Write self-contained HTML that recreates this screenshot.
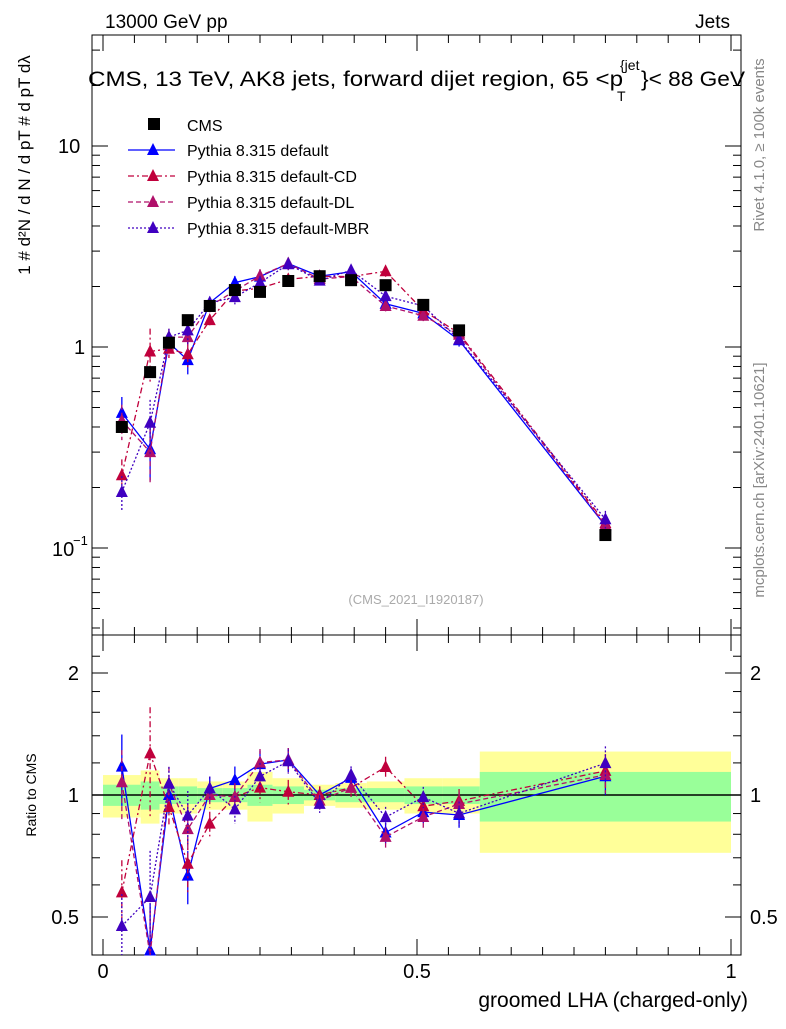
<!DOCTYPE html>
<html><head><meta charset="utf-8"><style>
body{margin:0;background:#fff}
svg{font-family:"Liberation Sans",sans-serif}
</style></head><body>
<svg id="c" width="786" height="1024" xmlns="http://www.w3.org/2000/svg"></svg>
<script>
const xs=[0.03,0.075,0.105,0.135,0.17,0.21,0.25,0.295,0.345,0.395,0.45,0.51,0.567,0.8];
const edges=[0,0.06,0.09,0.12,0.15,0.19,0.23,0.27,0.32,0.37,0.42,0.48,0.54,0.6,1.0];
const cms=[0.40,0.75,1.05,1.36,1.6,1.92,1.88,2.13,2.25,2.15,2.03,1.62,1.21,0.116];
const pDefault=[0.47,0.31,1.05,0.86,1.66,2.09,2.24,2.6,2.25,2.37,1.64,1.47,1.08,0.129];
const pCD=[0.23,0.95,0.98,0.92,1.36,1.9,1.96,2.17,2.25,2.24,2.38,1.52,1.17,0.133];
const pDL=[0.43,0.30,1.12,1.12,1.6,1.9,2.26,2.6,2.18,2.24,1.6,1.43,1.15,0.130];
const pMBR=[0.19,0.42,1.12,1.21,1.66,1.77,2.09,2.58,2.14,2.41,1.79,1.6,1.09,0.139];
const bandYellow=[0.12,0.15,0.10,0.10,0.08,0.08,0.14,0.10,0.06,0.07,0.08,0.10,0.10,0.28];
const bandGreen=[0.06,0.08,0.05,0.05,0.04,0.04,0.06,0.05,0.03,0.04,0.04,0.05,0.05,0.14];
const mcErr=[0.2,0.3,0.1,0.15,0.07,0.08,0.08,0.07,0.05,0.05,0.06,0.06,0.07,0.1];

const svg=document.getElementById('c');const NS='http://www.w3.org/2000/svg';
function el(t,a,p){const e=document.createElementNS(NS,t);for(const k in a)e.setAttribute(k,a[k]);(p||svg).appendChild(e);return e;}
const X=v=>103+628*v;
const Y=v=>347-201*Math.log10(v);
const R=v=>795-122*Math.log2(v);
const L=92,Rt=741,T=35,M=635,B=955;
function clampR(y){return Math.max(M,Math.min(B,y));}

for(let i=0;i<bandYellow.length;i++){
  const r=el('rect',{x:X(edges[i]),y:R(1+bandYellow[i]),width:X(edges[i+1])-X(edges[i]),height:R(1-bandYellow[i])-R(1+bandYellow[i]),fill:'#ffff99'});
  
  const g=el('rect',{x:X(edges[i]),y:R(1+bandGreen[i]),width:X(edges[i+1])-X(edges[i]),height:R(1-bandGreen[i])-R(1+bandGreen[i]),fill:'#99ff99'});
  
}
el('line',{x1:L,x2:Rt,y1:R(1),y2:R(1),stroke:'#000','stroke-width':1.5});

const f1=el('rect',{x:L,y:T,width:Rt-L,height:M-T,fill:'none',stroke:'#000'});
const f2=el('rect',{x:L,y:M,width:Rt-L,height:B-M,fill:'none',stroke:'#000'});

for(let d=-2;d<=1;d++)for(let m=1;m<10;m++){const v=m*Math.pow(10,d);const y=Y(v);if(y<T||y>M)continue;const len=m==1?16:8;
 el('line',{x1:L,x2:L+len,y1:y,y2:y,stroke:'#000'});el('line',{x1:Rt,x2:Rt-len,y1:y,y2:y,stroke:'#000'});}
[0.5,0.6,0.7,0.8,0.9,1,1.2,1.4,1.6,1.8,2,2.2].forEach(v=>{const y=R(v);if(y<M||y>B)return;const len=(v==0.5||v==1||v==2)?16:8;
 el('line',{x1:L,x2:L+len,y1:y,y2:y,stroke:'#000'});el('line',{x1:Rt,x2:Rt-len,y1:y,y2:y,stroke:'#000'});});
for(let i=0;i<=20;i++){const v=i*0.05;const x=X(v);const len=i%10==0?16:8;
 el('line',{x1:x,x2:x,y1:B,y2:B-len,stroke:'#000'});el('line',{x1:x,x2:x,y1:M,y2:M-len,stroke:'#000'});el('line',{x1:x,x2:x,y1:M,y2:M+len,stroke:'#000'});el('line',{x1:x,x2:x,y1:T,y2:T+len,stroke:'#000'});}

function txt(s,a,name){const t=el('text',a);t.textContent=s;return t;}
txt('10',{x:58,y:153,'font-size':20},'y-tick-10');
txt('1',{x:74,y:354,'font-size':20},'y-tick-1');
txt('10',{x:52,y:556,'font-size':20},'y-tick-0.1');
txt('−1',{x:73,y:545,'font-size':13},'y-tick-exp');
['2','1','0.5'].forEach((s,i)=>{const v=[2,1,0.5][i];
 txt(s,{x:79,y:R(v)+7,'font-size':20,'text-anchor':'end'},'ratio-tick-left-'+s);
 txt(s,{x:750,y:R(v)+7,'font-size':20},'ratio-tick-right-'+s);});
[['0',0],['0.5',0.5],['1',1]].forEach(([s,v])=>txt(s,{x:X(v),y:978,'font-size':20,'text-anchor':'middle'},'x-tick-'+s));
txt('groomed LHA (charged-only)',{x:748,y:1007,'font-size':21,'text-anchor':'end'},'x-axis-title');
txt('Ratio to CMS',{x:0,y:0,'font-size':14,'text-anchor':'middle',transform:'translate(36,795) rotate(-90)'},'ratio-axis-title');
txt('13000 GeV pp',{x:105,y:28,'font-size':19},'beam-label');
txt('Jets',{x:730,y:28,'font-size':19,'text-anchor':'end'},'process-label');
txt('CMS, 13 TeV, AK8 jets, forward dijet region, 65 <p',{x:88,y:86,'font-size':21.5,textLength:535,lengthAdjust:'spacingAndGlyphs'},'plot-title');
txt('T',{x:617,y:101,'font-size':14},'title-sub');
txt('{jet',{x:620,y:70,'font-size':14},'title-sup');
txt('}< 88 GeV',{x:641,y:86,'font-size':21.5,textLength:104,lengthAdjust:'spacingAndGlyphs'},'title-end');
txt('(CMS_2021_I1920187)',{x:416,y:604,'font-size':13,fill:'#aaa','text-anchor':'middle'},'analysis-id');
txt('Rivet 4.1.0, ≥ 100k events',{x:0,y:0,'font-size':15,fill:'#888','text-anchor':'middle',transform:'translate(764,145) rotate(-90)'},'rivet-label');
txt('mcplots.cern.ch [arXiv:2401.10621]',{x:0,y:0,'font-size':15,fill:'#888','text-anchor':'middle',transform:'translate(764,480) rotate(-90)'},'mcplots-label');
txt('1 # d²N / d N / d pT # d pT dλ',{x:0,y:0,'font-size':17,'text-anchor':'middle',transform:'translate(30,165) rotate(-90)'},'y-axis-title');

const series=[
 {name:'default',d:pDefault,c:'#0000ff',dash:'',lab:'Pythia 8.315 default'},
 {name:'default-cd',d:pCD,c:'#c0003c',dash:'6,3,2,3',lab:'Pythia 8.315 default-CD'},
 {name:'default-dl',d:pDL,c:'#b0106a',dash:'5,3',lab:'Pythia 8.315 default-DL'},
 {name:'default-mbr',d:pMBR,c:'#4000c0',dash:'2,2',lab:'Pythia 8.315 default-MBR'}];
function tri(x,y,c,g,name){const p=el('polygon',{points:`${x-6},${y+5} ${x+6},${y+5} ${x},${y-7}`,fill:c},g);}
series.forEach(s=>{
 const g=el('g',{});
 el('polyline',{points:s.d.map((v,i)=>X(xs[i])+','+Y(v)).join(' '),fill:'none',stroke:s.c,'stroke-width':1.3,'stroke-dasharray':s.dash},g);
 el('polyline',{points:s.d.map((v,i)=>X(xs[i])+','+clampR(R(v/cms[i]))).join(' '),fill:'none',stroke:s.c,'stroke-width':1.3,'stroke-dasharray':s.dash},g);
 s.d.forEach((v,i)=>{const x=X(xs[i]);const e=mcErr[i];
  el('line',{x1:x,x2:x,y1:Y(v*(1+e)),y2:Y(v*(1-e)),stroke:s.c,'stroke-width':1.3,'stroke-dasharray':s.dash},g);
  tri(x,Y(v),s.c,g,'point-'+s.name);
  const r=v/cms[i];
  el('line',{x1:x,x2:x,y1:clampR(R(r*(1+e))),y2:clampR(R(r*(1-e))),stroke:s.c,'stroke-width':1.3,'stroke-dasharray':s.dash},g);
  const ry=R(r);if(ry>=M&&ry<=B)tri(x,ry,s.c,g,'ratio-point-'+s.name);
 });
});
cms.forEach((v,i)=>{const r=el('rect',{x:X(xs[i])-6,y:Y(v)-6,width:12,height:12,fill:'#000'});});

const lg=el('g',{});
const lr=el('rect',{x:148,y:118,width:12,height:12,fill:'#000'},lg);
const lt=el('text',{x:187,y:131,'font-size':16},lg);lt.textContent='CMS';
series.forEach((s,i)=>{const y=150+i*26;
 el('line',{x1:128,x2:175,y1:y,y2:y,stroke:s.c,'stroke-width':1.3,'stroke-dasharray':s.dash},lg);
 tri(153,y,s.c,lg,'legend-marker-'+s.name);
 const t=el('text',{x:187,y:y+6,'font-size':16},lg);t.textContent=s.lab;});
</script>
</body></html>
